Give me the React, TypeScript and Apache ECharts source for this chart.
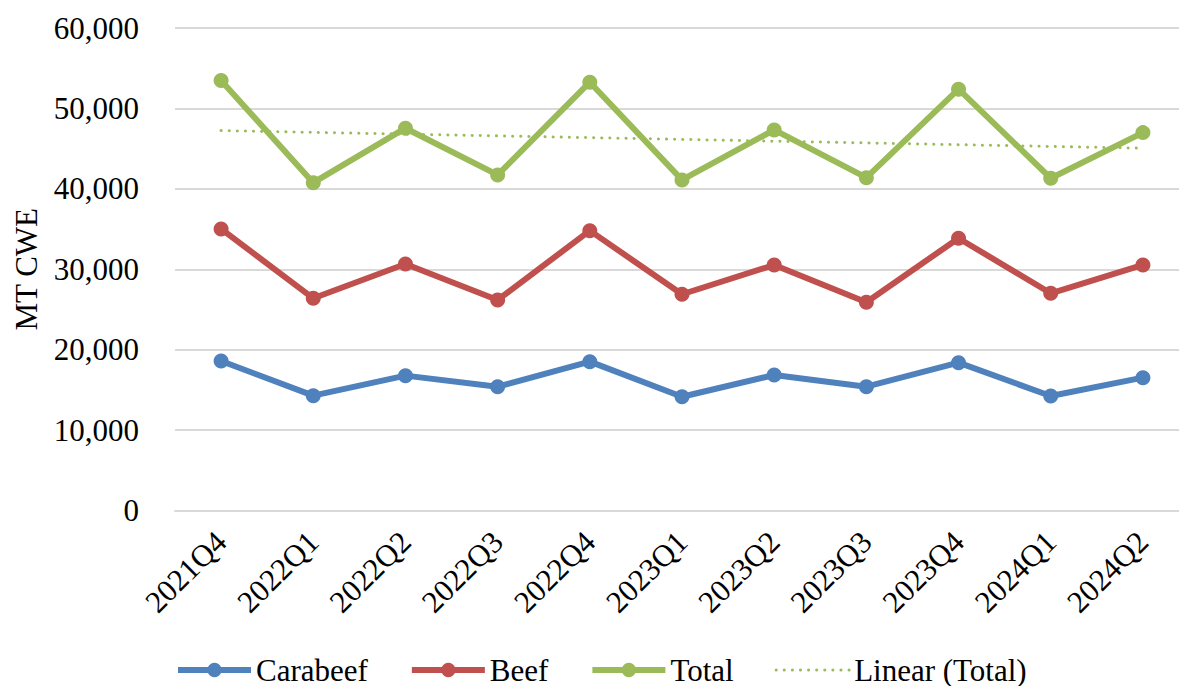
import React, { useEffect, useRef } from "react";
import * as echarts from "echarts";

// Quarterly volumes, MT CWE
const quarters = [
  "2021Q4", "2022Q1", "2022Q2", "2022Q3", "2022Q4",
  "2023Q1", "2023Q2", "2023Q3", "2023Q4", "2024Q1", "2024Q2",
];
const carabeef = [18590, 14280, 16770, 15400, 18510, 14150, 16850, 15400, 18380, 14240, 16520];
const beef = [35010, 26390, 30660, 26180, 34800, 26890, 30530, 25900, 33860, 27010, 30530];
const total = [53460, 40770, 47540, 41730, 53260, 41110, 47330, 41390, 52390, 41320, 46990];
// Linear trend of Total: values at the first and last quarter
const trendStart = 47240;
const trendEnd = 45050;

const yTicks = { min: 0, max: 60000, interval: 10000 };

const FONT = "'Liberation Serif', 'Times New Roman', serif";
const BLUE = "#4F81BD";
const RED = "#C0504D";
const GREEN = "#9BBB59";
const DOTS = { width: 3, type: [0.1, 8] as number[], cap: "round" as const };

export default function App() {
  const ref = useRef<HTMLDivElement>(null);

  useEffect(() => {
    if (!ref.current) return;
    const chart = echarts.init(ref.current, undefined, { renderer: "svg" });

    const trend = quarters.map((_, i) =>
      i === 0 ? trendStart : i === quarters.length - 1 ? trendEnd : null
    );

    const lineSeries = (name: string, data: number[], color: string) => ({
      name,
      type: "line",
      data,
      symbol: "circle",
      symbolSize: 15,
      itemStyle: { color },
      lineStyle: { color, width: 6 },
      z: 3,
    });

    chart.setOption({
      animation: false,
      backgroundColor: "#ffffff",
      textStyle: { fontFamily: FONT },
      grid: { left: 175, right: 1, top: 28, bottom: 175.5, containLabel: false },
      legend: {
        left: 175,
        top: 654,
        padding: 0,
        itemWidth: 73,
        itemHeight: 18,
        itemGap: 41,
        lineStyle: { width: 6 },
        textStyle: { fontFamily: FONT, fontSize: 31, lineHeight: 32, color: "#000" },
        data: [
          { name: "Carabeef" },
          { name: "Beef" },
          { name: "Total" },
          {
            name: "Linear (Total)",
            itemStyle: { opacity: 0 },
            lineStyle: { color: GREEN, ...DOTS },
          },
        ],
      },
      xAxis: {
        type: "category",
        data: quarters,
        boundaryGap: true,
        axisLine: { show: true, lineStyle: { color: "#d9d9d9", width: 2 } },
        axisTick: { show: false },
        axisLabel: {
          rotate: 45,
          margin: 26,
          interval: 0,
          fontFamily: FONT,
          fontSize: 31,
          color: "#000",
        },
      },
      yAxis: {
        type: "value",
        min: yTicks.min,
        max: yTicks.max,
        interval: yTicks.interval,
        name: "MT CWE",
        nameLocation: "middle",
        nameGap: 133,
        nameRotate: 90,
        nameTextStyle: { fontFamily: FONT, fontSize: 31, color: "#000" },
        axisLine: { show: false },
        axisTick: { show: false },
        splitLine: { lineStyle: { color: "#d9d9d9", width: 2 } },
        axisLabel: {
          margin: 36,
          fontFamily: FONT,
          fontSize: 31,
          color: "#000",
          formatter: (v: number) => v.toLocaleString("en-US"),
        },
      },
      series: [
        lineSeries("Carabeef", carabeef, BLUE),
        lineSeries("Beef", beef, RED),
        lineSeries("Total", total, GREEN),
        {
          name: "Linear (Total)",
          type: "line",
          data: trend,
          connectNulls: true,
          symbol: "none",
          itemStyle: { color: GREEN },
          lineStyle: { color: GREEN, ...DOTS },
          z: 2,
        },
      ],
    });

    return () => chart.dispose();
  }, []);

  return (
    <div
      style={{
        position: "fixed",
        left: 0,
        top: 0,
        width: 1179,
        height: 686,
        overflow: "hidden",
        background: "#fff",
      }}
    >
      <div ref={ref} style={{ width: 1190, height: 686 }} />
    </div>
  );
}
